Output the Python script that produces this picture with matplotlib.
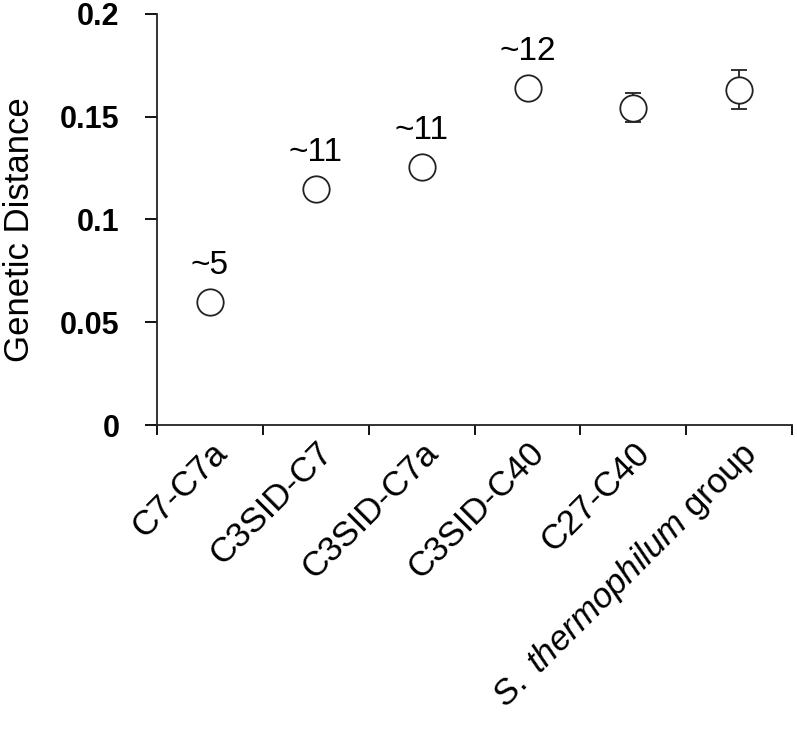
import matplotlib.pyplot as plt

plt.rcParams['font.family'] = ['Liberation Sans', 'DejaVu Sans']
plt.rcParams['mathtext.fontset'] = 'custom'
plt.rcParams['mathtext.rm'] = 'Liberation Sans'
plt.rcParams['mathtext.it'] = 'Liberation Sans:italic'

categories = ['C7-C7a', 'C3SID-C7', 'C3SID-C7a', 'C3SID-C40', 'C27-C40',
              r'$\mathit{S.\ thermophilum}$ group']
distance = [0.060, 0.115, 0.1255, 0.164, 0.154, 0.163]
err_low = [0, 0, 0, 0, 0.0065, 0.0092]
err_high = [0, 0, 0, 0, 0.0077, 0.0097]
notes = ['~5', '~11', '~11', '~12', '', '']

fig = plt.figure(figsize=(7.97, 7.29), dpi=100)
ax = fig.add_axes([0.197, 0.417, 0.797, 0.564])

x = list(range(len(categories)))

# error bars first, then open circles on top
ax.errorbar(x, distance, yerr=[err_low, err_high], fmt='none',
            ecolor='#222222', elinewidth=1.3, capsize=6, capthick=1.3, zorder=2)
ax.plot(x, distance, 'o', ms=19, mfc='white', mec='#222222', mew=1.3,
        linestyle='none', zorder=3)

for xi, yi, t in zip(x, distance, notes):
    if t:
        ax.annotate(t, (xi, yi), xytext=(0, 20), textcoords='offset points',
                    ha='center', va='baseline', fontsize=24)

ax.set_xlim(-0.5, len(categories) - 0.5)
ax.set_ylim(0, 0.2)
ax.set_yticks([0, 0.05, 0.1, 0.15, 0.2])
ax.set_yticklabels(['0', '0.05', '0.1', '0.15', '0.2'], fontweight='bold', fontsize=22)

ax.set_xticks([i - 0.5 for i in range(len(categories) + 1)], minor=False)
ax.set_xticklabels([])
ax.set_xticks(x, minor=True)
ax.set_xticklabels(categories, minor=True, rotation=45, ha='right',
                   va='top', rotation_mode='anchor', fontsize=25)
ax.tick_params(axis='x', which='minor', length=0, pad=8)
ax.tick_params(axis='x', which='major', length=7.5, width=1.3, direction='out')
ax.tick_params(axis='y', length=9, width=1.3, direction='out', pad=18)

ax.set_ylabel('Genetic Distance', fontsize=25)
ax.yaxis.set_label_coords(-0.19, 0.475)

for s in ['top', 'right']:
    ax.spines[s].set_visible(False)
for s in ['left', 'bottom']:
    ax.spines[s].set_linewidth(1.3)
    ax.spines[s].set_color('#222222')

fig.savefig('out.png', dpi=100)
